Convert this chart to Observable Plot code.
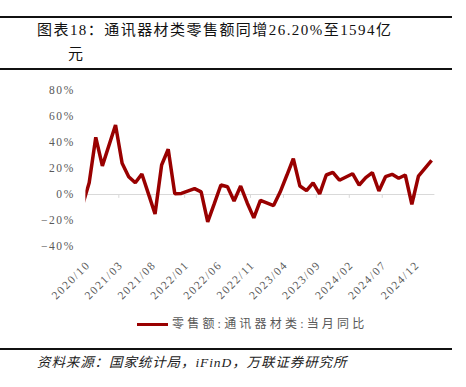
<!DOCTYPE html>
<html>
<head>
<meta charset="utf-8">
<script src="https://cdn.jsdelivr.net/npm/d3@7"></script>
<script src="https://cdn.jsdelivr.net/npm/@observablehq/plot@0.6"></script>
<style>
  html, body { margin: 0; padding: 0; background: #fff; }
  #wrap { position: relative; width: 466px; height: 387px; overflow: hidden; font-family: "Liberation Serif", "Noto Sans CJK SC", serif; }
  .rule { position: absolute; left: 0; width: 452px; height: 2px; background: #111; }
  .t { position: absolute; white-space: nowrap; line-height: 1; }
  #chart { position: absolute; left: 0; top: 72px; }
</style>
</head>
<body>
<div id="wrap">
  <div class="rule" style="top:16px"></div>
  <div class="t" style="left:37px; top:23px; font-size:15px; letter-spacing:1.45px; color:#111;">图表18：通讯器材类零售额同增26.20%至1594亿</div>
  <div class="t" style="left:68px; top:47px; font-size:15px; color:#111;">元</div>
  <div class="rule" style="top:68px"></div>
  <div id="chart"></div>
  <div style="position:absolute; left:137px; top:323px; width:31px; height:3px; background:#990000;"></div>
  <div class="t" style="left:172px; top:318px; font-size:12px; letter-spacing:3.2px; color:#595959;">零售额:通讯器材类:当月同比</div>
  <div class="rule" style="top:348px"></div>
  <div class="t" style="left:37px; top:356px; font-size:13.5px; letter-spacing:0.9px; font-style:italic; color:#222;">资料来源：国家统计局，iFinD，万联证券研究所</div>
</div>
<script>
// Months (January values absent: Jan-Feb reported together)
const months = [
  "2020/09","2020/10","2020/11","2020/12",
  "2021/02","2021/03","2021/04","2021/05","2021/06","2021/07","2021/08","2021/09","2021/10","2021/11","2021/12",
  "2022/02","2022/03","2022/04","2022/05","2022/06","2022/07","2022/08","2022/09","2022/10","2022/11","2022/12",
  "2023/02","2023/03","2023/04","2023/05","2023/06","2023/07","2023/08","2023/09","2023/10","2023/11","2023/12",
  "2024/02","2024/03","2024/04","2024/05","2024/06","2024/07","2024/08","2024/09","2024/10","2024/11","2024/12",
  "2025/02"
];
// 零售额:通讯器材类:当月同比 (%)
const values = [
  -8, 9, 44, 22,
  53.5, 24, 13.7, 9, 15.8, 0.5, -15, 22.7, 34.8, 0.5, 0.8,
  4.5, 2, -21, -7, 7.3, 6, -5, 6.5, -6.5, -18, -4.5,
  -8.5, 1.9, 14.6, 27.5, 6.5, 3, 9, 0.5, 15, 17, 11,
  16, 7.3, 13, 16.8, 2.7, 13.7, 15.5, 12.5, 15, -7.5, 14.2,
  26.2
];
const xTickLabels = ["2020/10","2021/03","2021/08","2022/01","2022/06","2022/11","2023/04","2023/09","2024/02","2024/07","2024/12"];
const yTicks = [-40, -20, 0, 20, 40, 60, 80];
const yTickLabels = ["−40%", "−20%", "0%", "20%", "40%", "60%", "80%"];
const axisStart = "2020/10";
const axisEnd = "2025/03";

const idx = s => { const [Y, M] = s.split("/").map(Number); const [Y0, M0] = axisStart.split("/").map(Number); return (Y - Y0) * 12 + (M - M0); };
const data = months.map((m, i) => ({month: m, value: values[i]}));

const plot = Plot.plot({
  width: 466,
  height: 233,
  marginTop: 18,
  marginBottom: 59,
  marginLeft: 85.4,
  marginRight: 31.6,
  x: {domain: [0, idx(axisEnd)], axis: null},
  y: {domain: [-40, 80], axis: null},
  style: {fontFamily: "'Liberation Serif', serif", fontSize: "11.5px", color: "#595959", background: "transparent", letterSpacing: "1.6px"},
  marks: [
    Plot.ruleY([0], {stroke: "#d9d9d9", strokeWidth: 1}),
    Plot.ruleX(xTickLabels, {x: d => idx(d), y1: 0, y2: -3, stroke: "#d9d9d9"}),
    Plot.axisY(yTicks, {label: null, tickSize: 0, tickPadding: 11, tickFormat: d => yTickLabels[yTicks.indexOf(d)], fill: "#595959"}),
    Plot.text(xTickLabels, {x: d => idx(d), text: d => d, frameAnchor: "bottom", rotate: -45, textAnchor: "end", dx: 5, dy: 19, fill: "#595959"}),
    Plot.line(data, {x: d => idx(d.month) + 0.5, y: "value", stroke: "#990000", strokeWidth: 3.5, strokeLinejoin: "miter", strokeLinecap: "butt", clip: true})
  ]
});
document.getElementById("chart").appendChild(plot);
</script>
</body>
</html>
